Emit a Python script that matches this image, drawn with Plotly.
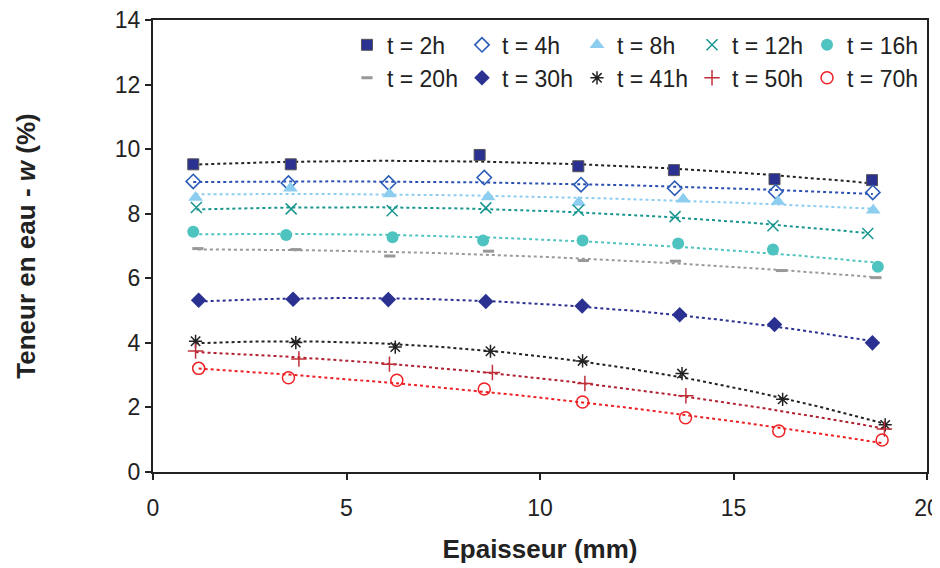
import numpy as np
import plotly.graph_objects as go

# Data (Epaisseur mm, Teneur en eau %)
labels = ["t = 2h", "t = 4h", "t = 8h", "t = 12h", "t = 16h",
          "t = 20h", "t = 30h", "t = 41h", "t = 50h", "t = 70h"]

x_2h = [1.04, 3.56, 8.44, 10.99, 13.46, 16.06, 18.58]
w_2h = [9.53, 9.53, 9.82, 9.47, 9.35, 9.07, 9.04]

x_4h = [1.04, 3.50, 6.09, 8.56, 11.06, 13.48, 16.09, 18.60]
w_4h = [9.00, 8.95, 8.95, 9.12, 8.90, 8.79, 8.68, 8.66]

x_8h = [1.10, 3.55, 6.11, 8.66, 11.00, 13.70, 16.15, 18.61]
w_8h = [8.50, 8.79, 8.61, 8.52, 8.35, 8.45, 8.38, 8.11]

x_12h = [1.12, 3.57, 6.18, 8.60, 10.99, 13.49, 16.02, 18.47]
w_12h = [8.19, 8.15, 8.09, 8.18, 8.11, 7.91, 7.63, 7.39]

x_16h = [1.04, 3.44, 6.19, 8.53, 11.10, 13.57, 16.02, 18.73]
w_16h = [7.44, 7.34, 7.27, 7.17, 7.17, 7.08, 6.89, 6.36]

x_20h = [1.16, 3.69, 6.12, 8.67, 11.12, 13.50, 16.24, 18.68]
w_20h = [6.92, 6.89, 6.69, 6.84, 6.55, 6.53, 6.24, 6.02]

x_30h = [1.18, 3.62, 6.08, 8.60, 11.09, 13.61, 16.06, 18.59]
w_30h = [5.32, 5.35, 5.34, 5.28, 5.14, 4.87, 4.57, 4.00]

x_41h = [1.10, 3.69, 6.26, 8.72, 11.10, 13.67, 16.27, 18.92]
w_41h = [4.05, 4.01, 3.87, 3.74, 3.44, 3.05, 2.25, 1.46]

x_50h = [1.10, 3.77, 6.11, 8.77, 11.16, 13.77, 18.90]
w_50h = [3.75, 3.50, 3.34, 3.08, 2.74, 2.36, 1.33]

x_70h = [1.18, 3.50, 6.30, 8.56, 11.10, 13.76, 16.17, 18.84]
w_70h = [3.21, 2.92, 2.84, 2.57, 2.17, 1.68, 1.27, 0.99]

xs = [x_2h, x_4h, x_8h, x_12h, x_16h, x_20h, x_30h, x_41h, x_50h, x_70h]
ws = [w_2h, w_4h, w_8h, w_12h, w_16h, w_20h, w_30h, w_41h, w_50h, w_70h]

marker_styles = [
    dict(symbol="square", color="#2b3190", size=11, line=dict(color="#555555", width=1)),
    dict(symbol="diamond-open", color="#2a5cb8", size=11, line=dict(color="#2a5cb8", width=1.6)),
    dict(symbol="triangle-up", color="#8ccdf0", size=13, line=dict(width=0)),
    dict(symbol="x-thin-open", color="#17968f", size=11, line=dict(color="#17968f", width=1.5)),
    dict(symbol="circle", color="#4ec3bf", size=12, line=dict(width=0)),
    dict(symbol="line-ew-open", color="#999999", size=8, line=dict(color="#999999", width=3)),
    dict(symbol="diamond", color="#2b3190", size=12, line=dict(width=0)),
    dict(symbol="asterisk-open", color="#222222", size=11, line=dict(color="#222222", width=1.5)),
    dict(symbol="cross-thin-open", color="#c0303a", size=11, line=dict(color="#c0303a", width=1.5)),
    dict(symbol="circle-open", color="#ee2024", size=12, line=dict(color="#ee2024", width=1.5)),
]
trend_colors = ["#222222", "#2a4fb0", "#8ccdf0", "#17968f", "#4ec3bf",
                "#999999", "#2b3190", "#222222", "#b02030", "#ee2024"]

FONT = "Liberation Sans, Arial, sans-serif"
fig = go.Figure()

# polynomial (order 2) trend lines, as in the original spreadsheet chart
for i in range(10):
    coef = np.polyfit(xs[i], ws[i], 2)
    xx = np.linspace(min(xs[i]), max(xs[i]), 100)
    fig.add_trace(go.Scatter(x=xx, y=np.polyval(coef, xx), mode="lines",
                             line=dict(color=trend_colors[i], width=2, dash="dot"),
                             showlegend=False, hoverinfo="skip"))

legend_names = ["legend"] + ["legend%d" % k for k in range(2, 11)]
for i in range(10):
    fig.add_trace(go.Scatter(x=xs[i], y=ws[i], mode="markers", name=labels[i],
                             marker=marker_styles[i], legend=legend_names[i]))

axis_common = dict(showline=True, linecolor="#222222", linewidth=2, mirror=True,
                   ticks="outside", tickcolor="#222222", tickwidth=2, ticklen=6,
                   showgrid=False, zeroline=False, ticklabeloverflow="allow",
                   automargin=False,
                   tickfont=dict(family=FONT, size=23, color="#222222"))

leg_x = [0.2506, 0.3992, 0.5478, 0.6964, 0.8450]
leg_y = [0.945, 0.872]
legends = {}
for i in range(10):
    legends[legend_names[i]] = dict(
        orientation="h", bgcolor="rgba(0,0,0,0)", borderwidth=0,
        font=dict(family=FONT, size=23, color="#222222"),
        xanchor="left", yanchor="middle", itemwidth=30,
        x=leg_x[i % 5], y=leg_y[i // 5])

fig.update_layout(
    width=940, height=560,
    margin=dict(l=145, r=21, t=12, b=96),
    plot_bgcolor="white", paper_bgcolor="white",
    xaxis=dict(range=[0, 20], tickvals=[0, 5, 10, 15, 20], ticklabelstandoff=8,
               title=dict(text="<b>Epaisseur (mm)</b>", standoff=20,
                          font=dict(family=FONT, size=26, color="#222222")),
               **axis_common),
    yaxis=dict(range=[0, 14], tickvals=[0, 2, 4, 6, 8, 10, 12, 14],
               title=dict(text="<b>Teneur en eau - <i>w</i> (%)</b>", standoff=72,
                          font=dict(family=FONT, size=26, color="#222222")),
               **axis_common),
    **legends,
)

fig.write_html("out.html")
